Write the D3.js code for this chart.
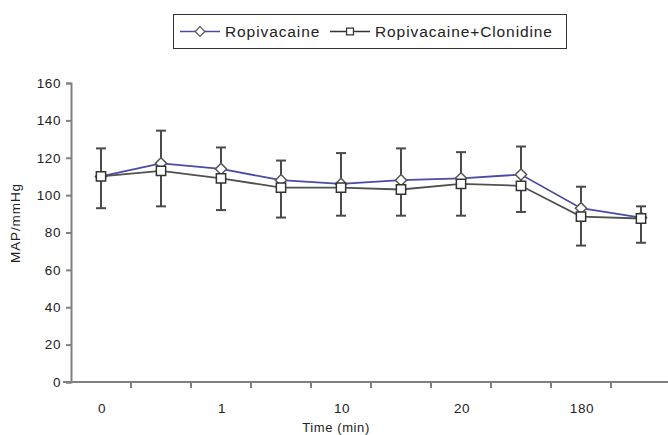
<!DOCTYPE html>
<html>
<head>
<meta charset="utf-8">
<script src="https://cdn.jsdelivr.net/npm/d3@7"></script>
<style>
  html, body { margin: 0; padding: 0; background: #fff; }
  svg { display: block; font-family: "Liberation Sans", Arial, sans-serif; }
  .tick text { letter-spacing: 0.6px; }
</style>
</head>
<body>
<svg id="chart" width="668" height="435"></svg>
<script>
// values (MAP, mmHg)
const tickLabels = ["0", "", "1", "", "10", "", "20", "", "180", ""];
const ropivacaine = [110, 117, 114, 108, 106, 108, 109, 111, 93, 88];
const ropiClonidine = [110, 113, 109, 104, 104, 103, 106, 105, 88.5, 87.5];
const errHigh = [125, 134.5, 125.5, 118.5, 122.5, 125, 123, 126, 104.5, 94];
const errLow = [93, 94, 92, 88, 89, 89, 89, 91, 73, 74.5];
const yTicks = [0, 20, 40, 60, 80, 100, 120, 140, 160];

const svg = d3.select('#chart');
const axisColor = '#808080';
const barColor = '#4a4a4a';

// scales
const x = d3.scaleBand().domain(d3.range(tickLabels.length)).range([71, 671]).padding(0);
const y = d3.scaleLinear().domain([0, 160]).range([382, 83]);
const cx = i => x(i) + x.bandwidth() / 2;

// y axis
const yAxis = svg.append('g')
  .attr('transform', 'translate(71,0)')
  .call(d3.axisLeft(y).tickValues(yTicks).tickSize(5).tickPadding(5));
yAxis.select('.domain').attr('stroke', axisColor).attr('stroke-width', 2);
yAxis.selectAll('.tick line').attr('stroke', axisColor).attr('stroke-width', 2);
yAxis.selectAll('.tick text').attr('font-size', 13.5).attr('fill', '#222');

// x axis: ticks on category boundaries, labels at centres
const xAxisG = svg.append('g').attr('transform', 'translate(0,382)');
xAxisG.append('line')
  .attr('x1', 63).attr('x2', 668).attr('y1', 0).attr('y2', 0)
  .attr('stroke', axisColor).attr('stroke-width', 2);
xAxisG.selectAll('line.tk')
  .data(d3.range(1, tickLabels.length))
  .join('line')
  .attr('class', 'tk')
  .attr('x1', d => x(d)).attr('x2', d => x(d))
  .attr('y1', 0).attr('y2', 6)
  .attr('stroke', axisColor).attr('stroke-width', 2);
xAxisG.selectAll('text')
  .data(d3.range(tickLabels.length))
  .join('text')
  .attr('x', d => cx(d) + 1)
  .attr('y', 31)
  .attr('text-anchor', 'middle')
  .attr('font-size', 13.5)
  .attr('letter-spacing', 0.6)
  .attr('fill', '#222')
  .text(d => tickLabels[d]);

// axis titles
svg.append('text')
  .attr('x', 336).attr('y', 432)
  .attr('text-anchor', 'middle')
  .attr('font-size', 13)
  .attr('letter-spacing', 0.6)
  .attr('fill', '#222')
  .text('Time (min)');
svg.append('text')
  .attr('transform', 'translate(20,223) rotate(-90)')
  .attr('text-anchor', 'middle')
  .attr('font-size', 13.5)
  .attr('letter-spacing', 0.9)
  .attr('fill', '#222')
  .text('MAP/mmHg');

// error bars
const eb = svg.append('g').attr('stroke', barColor).attr('stroke-width', 2);
d3.range(errHigh.length).forEach(i => {
  eb.append('line').attr('x1', cx(i)).attr('x2', cx(i)).attr('y1', y(errHigh[i])).attr('y2', y(errLow[i]));
  eb.append('line').attr('x1', cx(i) - 5).attr('x2', cx(i) + 5).attr('y1', y(errHigh[i])).attr('y2', y(errHigh[i]));
  eb.append('line').attr('x1', cx(i) - 5).attr('x2', cx(i) + 5).attr('y1', y(errLow[i])).attr('y2', y(errLow[i]));
});

const line = d3.line().x((d, i) => cx(i)).y(d => y(d));
const diamond = d3.symbol().type(d3.symbolDiamond2).size(80);
const square = d3.symbol().type(d3.symbolSquare2).size(110);

// Ropivacaine series
svg.append('path').datum(ropivacaine)
  .attr('d', line).attr('fill', 'none').attr('stroke', '#4a4aa8').attr('stroke-width', 1.8);
svg.append('g').selectAll('path')
  .data(ropivacaine).join('path')
  .attr('d', diamond)
  .attr('transform', (d, i) => `translate(${cx(i)},${y(d)})`)
  .attr('fill', '#fff').attr('stroke', '#555').attr('stroke-width', 1.5);

// Ropivacaine+Clonidine series
svg.append('path').datum(ropiClonidine)
  .attr('d', line).attr('fill', 'none').attr('stroke', '#505050').attr('stroke-width', 1.8);
svg.append('g').selectAll('path')
  .data(ropiClonidine).join('path')
  .attr('d', square)
  .attr('transform', (d, i) => `translate(${cx(i)},${y(d)})`)
  .attr('fill', '#fff').attr('stroke', '#333').attr('stroke-width', 1.5);

// legend
const lg = svg.append('g');
lg.append('rect')
  .attr('x', 173.5).attr('y', 14.5).attr('width', 393).attr('height', 34)
  .attr('fill', '#fff').attr('stroke', '#333').attr('stroke-width', 1);
const legendItems = [
  { name: 'Ropivacaine', x0: 180, color: '#4a4aa8', sym: diamond, mk: '#555' },
  { name: 'Ropivacaine+Clonidine', x0: 330, color: '#333', sym: square, mk: '#333' }
];
legendItems.forEach(it => {
  lg.append('line').attr('x1', it.x0).attr('x2', it.x0 + 40).attr('y1', 31.5).attr('y2', 31.5)
    .attr('stroke', it.color).attr('stroke-width', 1.5);
  lg.append('path').attr('d', it.sym.size(60)).attr('transform', `translate(${it.x0 + 20},31.5)`)
    .attr('fill', '#fff').attr('stroke', it.mk).attr('stroke-width', 1.2);
  lg.append('text').attr('x', it.x0 + 45).attr('y', 37)
    .attr('font-size', 15.5).attr('letter-spacing', 0.9).attr('fill', '#222')
    .text(it.name);
});
</script>
</body>
</html>
